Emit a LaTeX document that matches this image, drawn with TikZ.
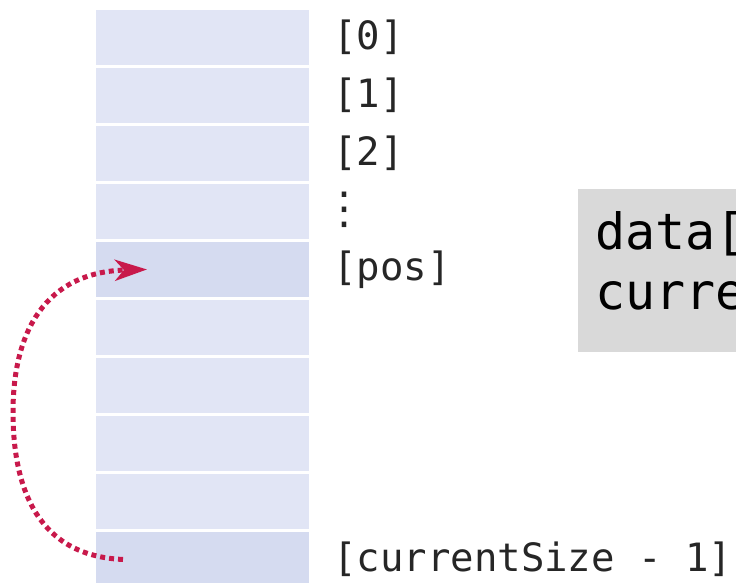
\documentclass[tikz,border=0pt]{standalone}
\usepackage{fontspec}
\newfontfamily\monofont{DejaVu Sans Mono}
\newfontfamily\dvsfont{DejaVu Sans}
\usetikzlibrary{arrows.meta}
\definecolor{cellL}{RGB}{225,229,245}
\definecolor{cellD}{RGB}{213,219,240}
\definecolor{boxgray}{RGB}{217,217,217}
\definecolor{arrred}{RGB}{200,25,75}
\tikzset{
  cellbox/.style={draw=none, inner sep=0pt, minimum width=213pt, minimum height=54.5pt, anchor=north west},
  lbl/.style={font=\monofont\fontsize{39}{44}\selectfont, text=black!85, inner sep=0pt, anchor=base west},
  boxtxt/.style={font=\monofont\fontsize{50}{56}\selectfont, text=black, inner sep=0pt, anchor=base west},
  movearrow/.style={draw=arrred, line width=5pt, dash pattern=on 5pt off 4pt,
    -{Stealth[length=32pt,width=21pt,inset=9pt,fill=arrred]}}
}
\begin{document}
\begin{tikzpicture}[x=1pt,y=-1pt]
\useasboundingbox (0,0) rectangle (736,582);
\clip (0,0) rectangle (736,582);
% cells
\foreach \i/\c in {0/cellL,1/cellL,2/cellL,3/cellL,4/cellD,5/cellL,6/cellL,7/cellL,8/cellL,9/cellD}{
  \node[cellbox, fill=\c] (c\i) at (96,{10+58*\i}) {};
}
% labels
\node[lbl] (l0) at (333,49) {[0]};
\node[lbl] (l1) at (333,107) {[1]};
\node[lbl] (l2) at (333,165) {[2]};
\node[inner sep=0pt, font=\dvsfont\fontsize{44}{50}\selectfont, text=black!85] (ld) at (344,210) {⋮};
\node[lbl] (lp) at (333,280) {[pos]};
\node[lbl] (ln) at (333,571) {[currentSize - 1]};
% code box
\node[fill=boxgray, inner sep=0pt, minimum width=200pt, minimum height=163pt, anchor=north west] (box) at (578,189) {};
\node[boxtxt] (t1) at (595,249) {data[};
\node[boxtxt] (t2) at (595,309) {curre};
% arrow
\coordinate (s) at ([xshift=27pt]c9.west);
\coordinate (e) at ([xshift=51pt]c4.west);
\draw[movearrow] (s) .. controls (40,556) and (13,492) .. (13,412) .. controls (13,332) and (45,272) .. (e);
\end{tikzpicture}
\end{document}
